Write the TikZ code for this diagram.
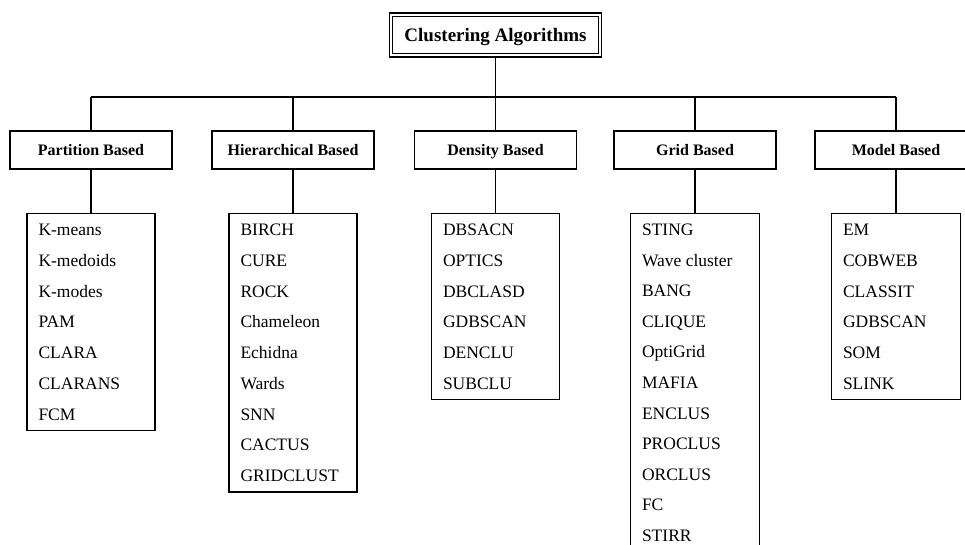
\documentclass[tikz,border=0pt]{standalone}
\usepackage{fontspec}
\setmainfont{Liberation Serif}
\begin{document}
\begin{tikzpicture}[x=1pt,y=-1pt,
  catbox/.style={draw, line width=1.6pt, minimum width=162pt, minimum height=38pt, inner sep=0pt, text height=11pt, text depth=0.4pt, font=\fontsize{16}{18}\selectfont\bfseries},
  listbox/.style={draw, line width=1.4pt, minimum width=128pt, inner sep=0pt, anchor=north},
  item/.style={anchor=base west, inner sep=0pt, font=\fontsize{17.5}{20}\selectfont},
  conn/.style={line width=1.6pt}]
\useasboundingbox (0,0) rectangle (965,545);
\clip (0,0) rectangle (965,545);
\fill[white] (0,0) rectangle (965,545);
% title
\node[draw, line width=1.7pt, minimum width=212pt, minimum height=44pt, inner sep=0pt,
      text height=13pt, text depth=0.5pt,
      font=\fontsize{19}{22}\selectfont\bfseries] (title) at (495.5,35) {Clustering Algorithms};
\draw[line width=1.2pt] ([shift={(4,4)}]title.north west) rectangle ([shift={(-4,-4)}]title.south east);
% categories
\node[catbox] (part) at (91,150) {Partition Based};
\node[catbox] (hier) at (293,150) {Hierarchical Based};
\node[catbox] (dens) at (495.5,150) {Density Based};
\node[catbox] (grid) at (695,150) {Grid Based};
\node[catbox] (model) at (896,150) {Model Based};
\coordinate (bus) at (495.5,97);
% connectors
\draw[conn] (title.south) -- (title.south |- bus);
\draw[conn] (part.north |- bus) -- (model.north |- bus);
\foreach \c in {part,hier,dens,grid,model}
  \draw[conn] (\c.north) -- (\c.north |- bus);
% list boxes
\node[listbox, minimum height=216.8pt] (plist) at (91,213) {};
\node[listbox, minimum height=278.4pt] (hlist) at (293,213) {};
\node[listbox, minimum height=186pt] (dlist) at (495.5,213) {};
\node[listbox, minimum height=340pt, minimum width=129pt] (glist) at (695,213) {};
\node[listbox, minimum height=186pt, minimum width=129pt] (mlist) at (896,213) {};
\draw[conn] (part.south) -- (plist.north);
\draw[conn] (hier.south) -- (hlist.north);
\draw[conn] (dens.south) -- (dlist.north);
\draw[conn] (grid.south) -- (glist.north);
\draw[conn] (model.south) -- (mlist.north);
% items
\foreach \t [count=\i from 0] in {K-means,K-medoids,K-modes,PAM,CLARA,CLARANS,FCM}
  \node[item] (p\i) at ([shift={(12,{22.8+30.7*\i})}]plist.north west) {\t};
\foreach \t [count=\i from 0] in {BIRCH,CURE,ROCK,Chameleon,Echidna,Wards,SNN,CACTUS,GRIDCLUST}
  \node[item] (h\i) at ([shift={(12,{22.8+30.7*\i})}]hlist.north west) {\t};
\foreach \t [count=\i from 0] in {DBSACN,OPTICS,DBCLASD,GDBSCAN,DENCLU,SUBCLU}
  \node[item] (d\i) at ([shift={(12,{22.8+30.7*\i})}]dlist.north west) {\t};
\foreach \t [count=\i from 0] in {STING,Wave cluster,BANG,CLIQUE,OptiGrid,MAFIA,ENCLUS,PROCLUS,ORCLUS,FC,STIRR}
  \node[item] (g\i) at ([shift={(12,{22.5+30.6*\i})}]glist.north west) {\t};
\foreach \t [count=\i from 0] in {EM,COBWEB,CLASSIT,GDBSCAN,SOM,SLINK}
  \node[item] (m\i) at ([shift={(12,{22.8+30.7*\i})}]mlist.north west) {\t};
\end{tikzpicture}
\end{document}
